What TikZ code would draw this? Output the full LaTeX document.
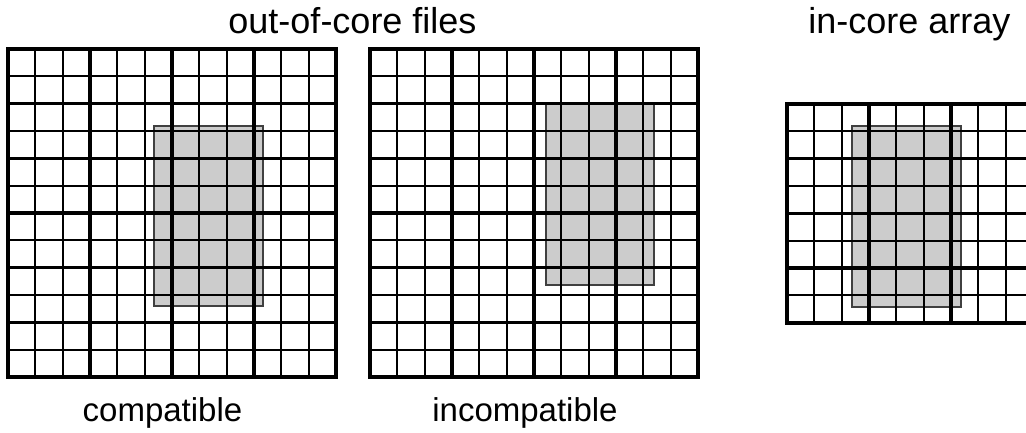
\documentclass[tikz,border=0pt]{standalone}
\usepackage{fontspec}
\setmainfont{Liberation Sans}
\newcommand\cellsz{27.333}
\newcommand\oocgrid[4]{%
  \foreach \i in {0,...,#3} \draw[thinline] ({#1+\i*\cellsz},#2) -- ++(0,{#4*\cellsz});
  \foreach \j in {0,...,#4} \draw[thinline] (#1,{#2+\j*\cellsz}) -- ++({#3*\cellsz},0);
  \foreach \i in {0,3,...,#3} \draw[thickline] ({#1+\i*\cellsz},#2) -- ++(0,{#4*\cellsz});
  \foreach \j in {0,2,...,#4} \draw[thickline] (#1,{#2+\j*\cellsz}) -- ++({#3*\cellsz},0);
  \draw[borderline] (#1,#2) rectangle ++({#3*\cellsz},{#4*\cellsz});
}
\tikzset{
  thinline/.style={line width=1.8pt, black},
  thickline/.style={line width=3.6pt, black},
  borderline/.style={line width=4pt, black, line join=miter},
  block/.style={fill=black!20, draw=black!75, line width=1.3pt},
  title/.style={font=\fontsize{36}{40}\selectfont, anchor=base, inner sep=0pt},
  caption/.style={font=\fontsize{33}{38}\selectfont, anchor=base, inner sep=0pt}
}
\begin{document}
\begin{tikzpicture}[x=1pt,y=-1pt]
\useasboundingbox (0,0) rectangle (1026,432);
\begin{scope}
\clip (0,0) rectangle (1026,432);
% shaded blocks
\draw[block] (154,126) rectangle (263,306);
\draw[block] (546,103) rectangle (654,285);
\draw[block] (852,126) rectangle (961,307);
% grids
\oocgrid{8}{49}{12}{12}
\oocgrid{370}{49}{12}{12}
\oocgrid{787}{104}{12}{8}
\end{scope}
% labels
\node[title] (ooc) at (352.5,33) {out-of-core files};
\node[title] (inc) at (909.5,33) {in-core array};
\node[caption] (comp) at (162.5,421) {compatible};
\node[caption] (incomp) at (525,421) {incompatible};
\end{tikzpicture}
\end{document}
